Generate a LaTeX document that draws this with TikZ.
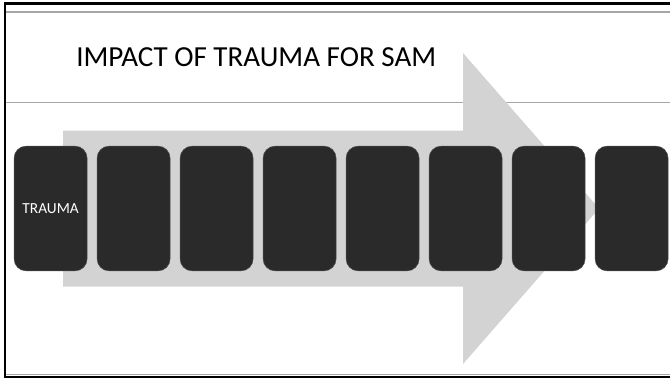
\documentclass[tikz,border=0pt]{standalone}
\usepackage{fontspec}
\setmainfont{Carlito}
\usepackage{tikz}
\usetikzlibrary{positioning}

\definecolor{cardgray}{HTML}{2A2A2A}
\definecolor{arrowgray}{HTML}{D3D3D3}
\definecolor{rulegray}{HTML}{A6A6A6}

\begin{document}
\begin{tikzpicture}[
		x=0.75pt, y=-0.75pt,
		node distance=0.45cm and 7.5pt,
		card/.style={draw=black!70, line width=0.4pt, fill=cardgray, rounded corners=9pt, minimum width=54.75pt, minimum height=93.5pt, inner sep=0pt, outer sep=0pt, align=center, font=\fontsize{11.5}{13}\selectfont, text=white},
		frame/.style={line width=2pt, black},
		hrule/.style={rulegray, line width=0.9pt}
		]
		\useasboundingbox (0,0) rectangle (670,378);
		
		% rules and frame
		\draw[hrule] (6,12) -- (670,12);
		\draw[hrule] (6,102.5) -- (670,102.5);
		\draw[hrule] (6,374.5) -- (670,374.5);
		\draw[frame] (670,3.5) -- (5,3.5) -- (5,377) -- (670,377);
		
		% big arrow behind the cards
		\fill[arrowgray] (63,130.7) -- (463,130.7) -- (463,53) -- (599,208.5) -- (463,364) -- (463,286.7) -- (63,286.7) -- cycle;
		
		\node[anchor=base west, inner sep=0pt, font=\fontsize{21.8}{24}\selectfont] (title) at (76,66.7) {IMPACT OF TRAUMA FOR SAM};
		
		\node[card] (c1) at (50.6,208.5) {TRAUMA};
		\node[card, right=of c1] (c2) {};
		\node[card, right=of c2] (c3) {};
		\node[card, right=of c3] (c4) {};
		\node[card, right=of c4] (c5) {};
		\node[card, right=of c5] (c6) {};
		\node[card, right=of c6] (c7) {};
		\node[card, right=of c7] (c8) {};
	\end{tikzpicture}
\end{document}
